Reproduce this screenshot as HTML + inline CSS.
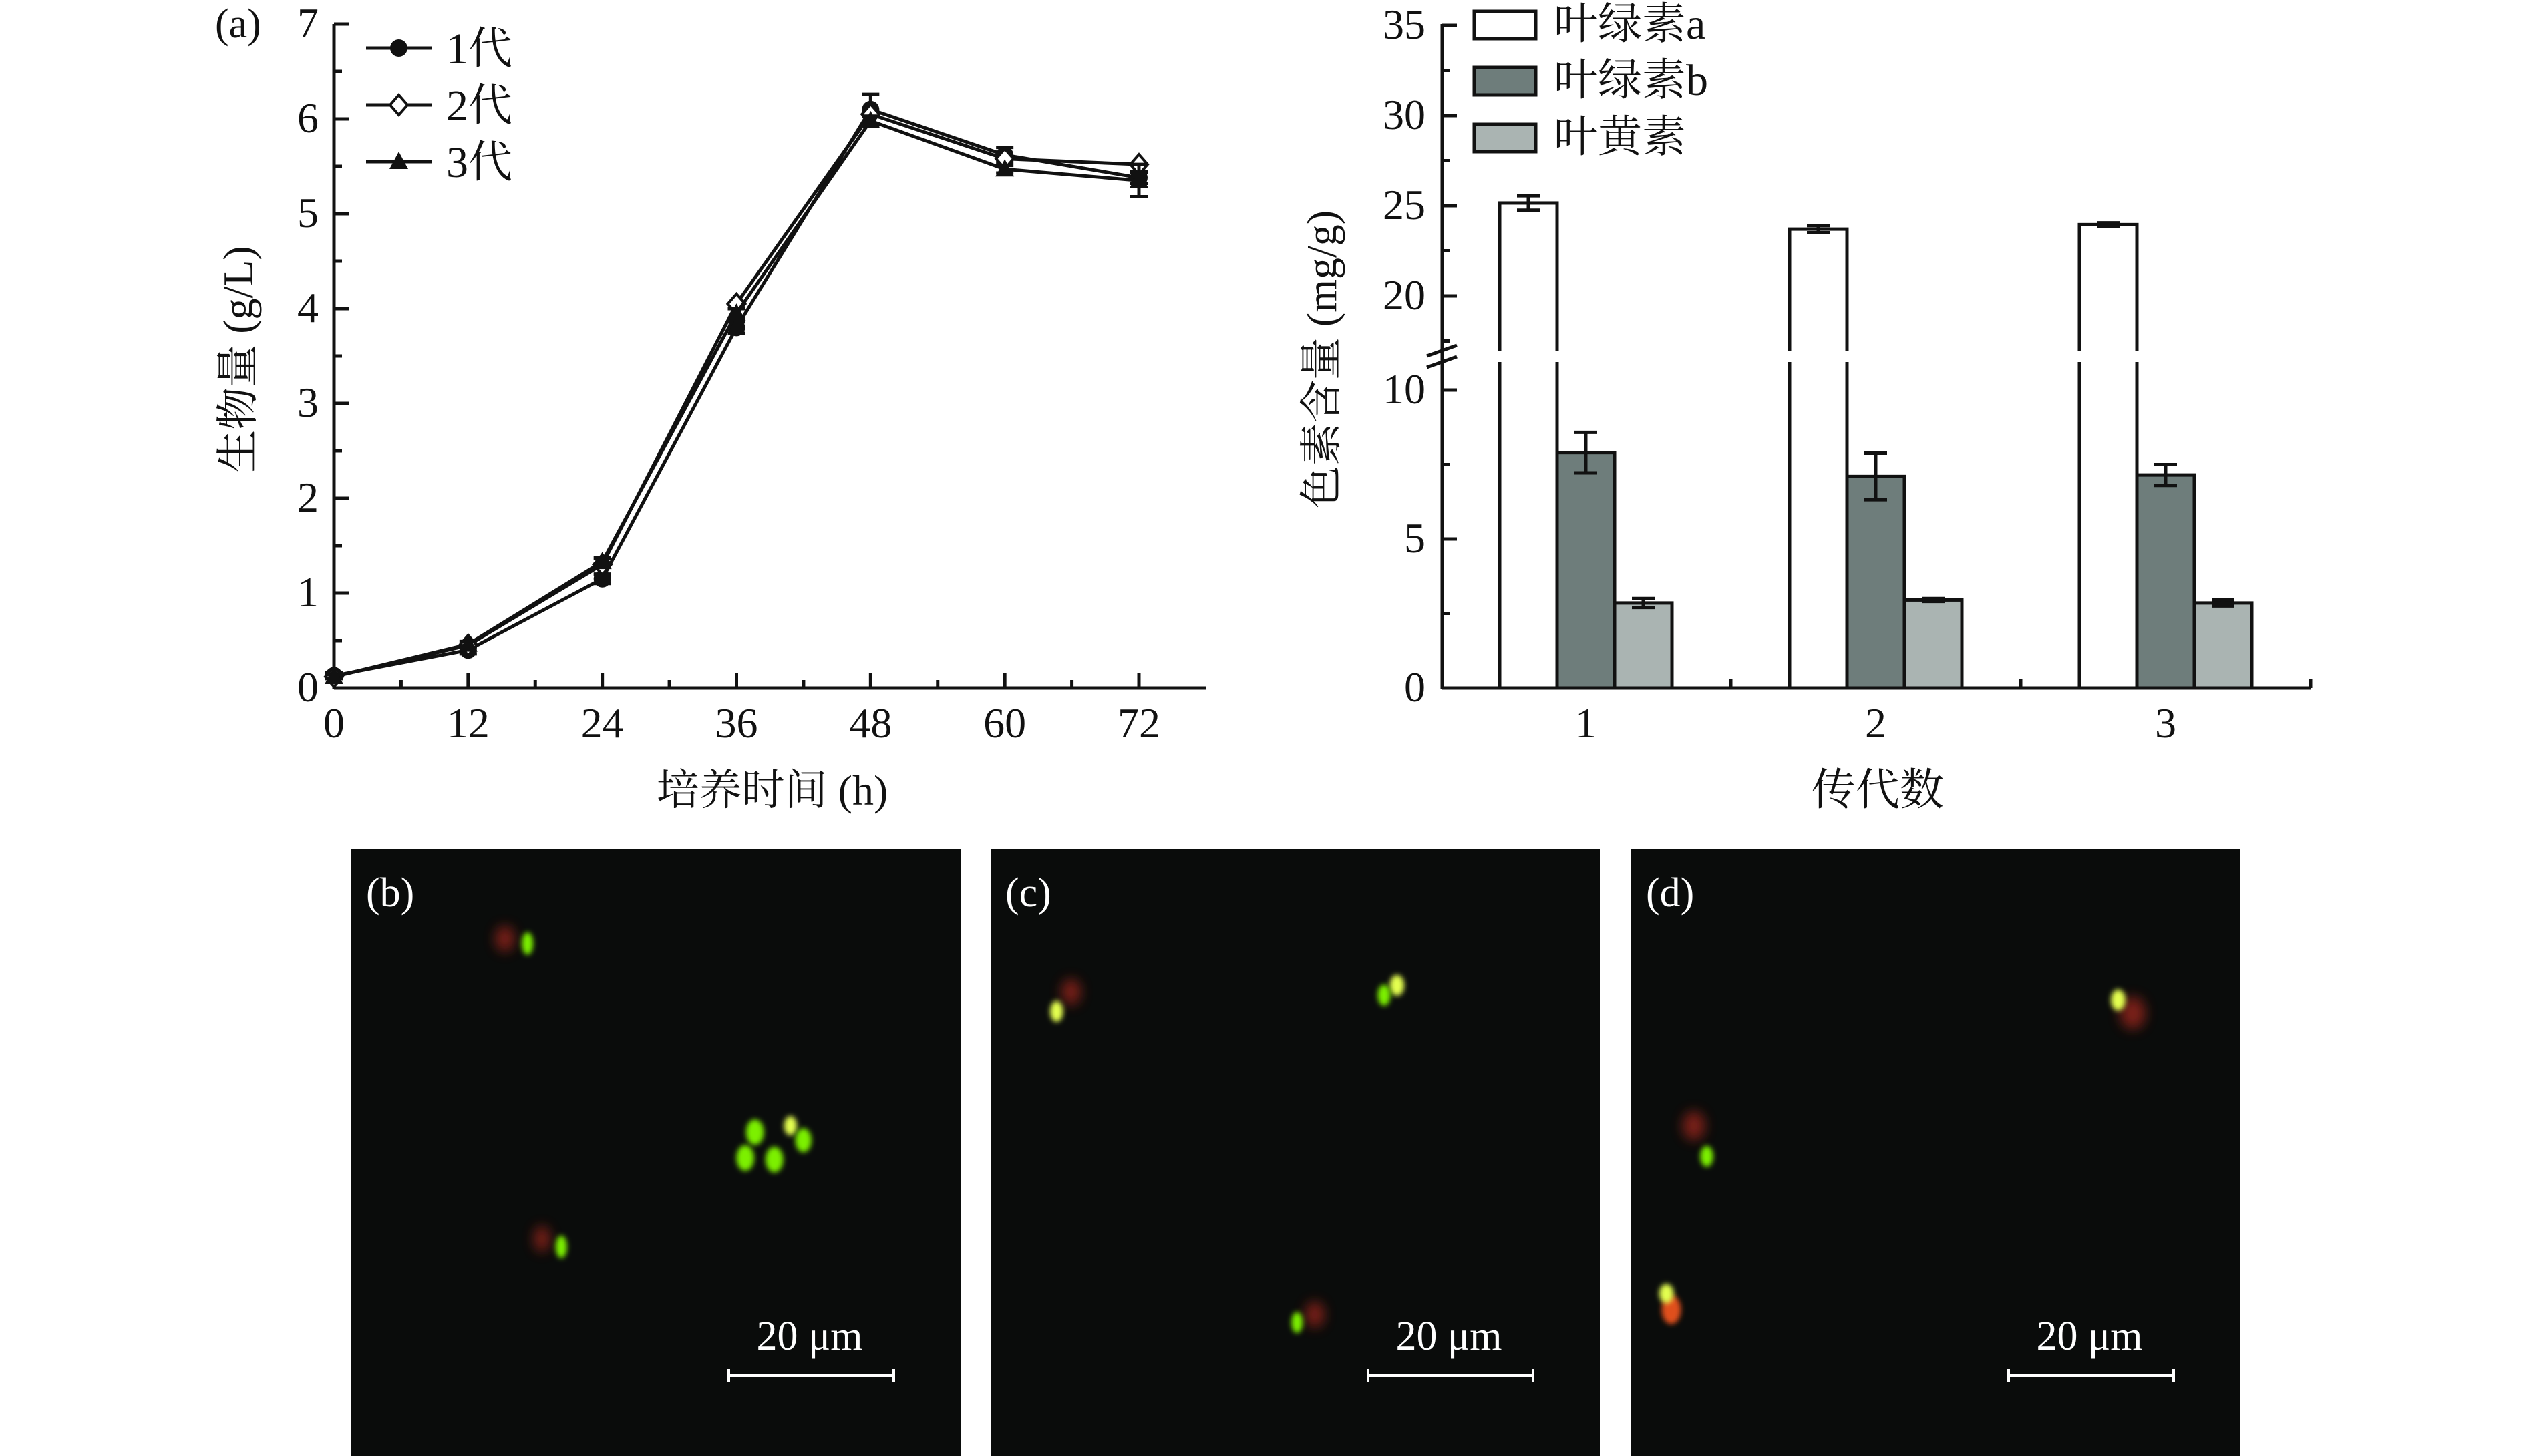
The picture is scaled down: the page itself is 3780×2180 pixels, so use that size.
<!DOCTYPE html>
<html><head><meta charset="utf-8">
<style>
html,body{margin:0;padding:0;background:#fff;}
svg{display:block;}
text{font-family:"Liberation Serif","Noto Serif CJK SC","Noto Sans CJK SC",serif;fill:#111;}
</style></head>
<body>
<svg id="fig" width="3780" height="2180" viewBox="0 0 3780 2180" xmlns="http://www.w3.org/2000/svg">
<defs>
<filter id="blur" x="-100%" y="-100%" width="300%" height="300%"><feGaussianBlur stdDeviation="4"/></filter>
<filter id="blur2" x="-100%" y="-100%" width="300%" height="300%"><feGaussianBlur stdDeviation="9"/></filter>
</defs>
<g id="chartA"></g>
<g id="chartB"></g>
<g id="photos"></g>
</svg>
<script>
// ---------- Chart A data ----------
const hours = [0, 12, 24, 36, 48, 60, 72];
const gen1 = [0.13, 0.40, 1.15, 3.80, 6.10, 5.62, 5.38];
const gen2 = [0.12, 0.45, 1.30, 4.05, 6.05, 5.58, 5.52];
const gen3 = [0.12, 0.46, 1.33, 3.95, 5.98, 5.47, 5.35];
const err1 = [0.03, 0.04, 0.05, 0.06, 0.16, 0.08, 0.06];
const err3 = [0.02, 0.03, 0.04, 0.05, 0.05, 0.04, 0.17];
const xTicksA = ["0", "12", "24", "36", "48", "60", "72"];
const yTicksA = ["0", "1", "2", "3", "4", "5", "6", "7"];
const seriesNamesA = ["1代", "2代", "3代"];

// ---------- Chart B data ----------
const generations = ["1", "2", "3"];
const chlA = [25.15, 23.70, 23.95];
const chlAErr = [0.40, 0.20, 0.10];
const chlB = [7.90, 7.10, 7.15];
const chlBErr = [0.68, 0.78, 0.35];
const lutein = [2.85, 2.95, 2.85];
const luteinErr = [0.15, 0.05, 0.10];
const seriesNamesB = ["叶绿素a", "叶绿素b", "叶黄素"];
const yTicksLow = ["0", "5", "10"];
const yTicksHigh = ["20", "25", "30", "35"];

const NS = "http://www.w3.org/2000/svg";
function mk(tag, attrs, parent, txt) {
  const e = document.createElementNS(NS, tag);
  for (const k in attrs) e.setAttribute(k, attrs[k]);
  if (txt !== undefined) e.textContent = txt;
  parent.appendChild(e);
  return e;
}

// ================= Chart A =================
(function () {
  const g = document.getElementById('chartA');
  const X0 = 500, X1 = 1705, Y0 = 1030, Y7 = 36;
  const xs = h => X0 + (h / 72) * (X1 - X0);
  const ys = v => Y0 - (v / 7) * (Y0 - Y7);
  const sw = 5;
  let e;
  e = mk('line', {x1: X0, y1: Y0, x2: 1806, y2: Y0, stroke: '#111', 'stroke-width': sw}, g);
   
  e = mk('line', {x1: X0, y1: Y0 + 2, x2: X0, y2: Y7, stroke: '#111', 'stroke-width': sw}, g);
   
  for (let v = 0; v <= 7; v += 0.5) {
    const major = Number.isInteger(v);
    mk('line', {x1: X0, y1: ys(v), x2: X0 + (major ? 22 : 12), y2: ys(v), stroke: '#111', 'stroke-width': sw}, g);
  }
  yTicksA.forEach((t, i) => {
    e = mk('text', {x: 477, y: ys(i) + 20, 'font-size': 64, 'text-anchor': 'end'}, g, t);
     
  });
  for (let h = 0; h <= 72; h += 6) {
    const major = h % 12 === 0;
    mk('line', {x1: xs(h), y1: Y0, x2: xs(h), y2: Y0 - (major ? 22 : 12), stroke: '#111', 'stroke-width': sw}, g);
  }
  xTicksA.forEach((t, i) => {
    e = mk('text', {x: xs(+t), y: 1104, 'font-size': 64, 'text-anchor': 'middle'}, g, t);
     
  });
  e = mk('text', {x: 1156, y: 1205, 'font-size': 64, 'text-anchor': 'middle'}, g, '培养时间 (h)');
   
  e = mk('text', {x: 0, y: 0, 'font-size': 64, 'text-anchor': 'middle', transform: 'translate(378,538) rotate(-90)'}, g, '生物量 (g/L)');
   
  e = mk('text', {x: 322, y: 56, 'font-size': 62}, g, '(a)');
   

  function marker(type, x, y, parent) {
    const r = 13;
    if (type === 0) return mk('circle', {cx: x, cy: y, r: r, fill: '#111'}, parent);
    if (type === 1) return mk('polygon', {points: `${x},${y - 15} ${x + 13},${y} ${x},${y + 15} ${x - 13},${y}`, fill: '#fff', stroke: '#111', 'stroke-width': 4}, parent);
    return mk('polygon', {points: `${x},${y - 15} ${x + 14},${y + 11} ${x - 14},${y + 11}`, fill: '#111'}, parent);
  }
  const allSeries = [gen1, gen2, gen3];
  const errs = [err1, null, err3];
  allSeries.forEach((s, si) => {
    const sg = mk('g', {}, g);
    
    
    const pts = s.map((v, i) => xs(hours[i]) + ',' + ys(v)).join(' ');
    mk('polyline', {points: pts, fill: 'none', stroke: '#111', 'stroke-width': 5}, sg);
    if (errs[si]) {
      s.forEach((v, i) => {
        const x = xs(hours[i]), d = errs[si][i];
        mk('path', {d: `M${x},${ys(v - d)}V${ys(v + d)}M${x - 13},${ys(v - d)}H${x + 13}M${x - 13},${ys(v + d)}H${x + 13}`, stroke: '#111', 'stroke-width': 5, fill: 'none'}, sg);
      });
    }
    s.forEach((v, i) => {
      const m = marker(si, xs(hours[i]), ys(v), sg);
      
      
    });
  });
  const legY = [72, 157, 242];
  seriesNamesA.forEach((n, i) => {
    const lg = mk('g', {}, g);
    
    
    mk('line', {x1: 548, y1: legY[i], x2: 647, y2: legY[i], stroke: '#111', 'stroke-width': 5}, lg);
    marker(i, 597, legY[i], lg);
    mk('text', {x: 668, y: legY[i] + 23, 'font-size': 66}, lg, n);
  });
})();

// ================= Chart B =================
(function () {
  const g = document.getElementById('chartB');
  const X0 = 2159, XE = 3459, Y0 = 1030;
  const yLow = v => Y0 - v * 44.6;
  const yHigh = v => 38 + (35 - v) * 27;
  const ys = v => v > 15 ? yHigh(v) : yLow(v);
  const gc = i => 2374 + i * 434;
  const bw = 86;
  const sw = 5;
  let e;
  e = mk('line', {x1: X0, y1: Y0, x2: XE, y2: Y0, stroke: '#111', 'stroke-width': sw}, g);
   
  e = mk('line', {x1: X0, y1: Y0 + 2, x2: X0, y2: 36, stroke: '#111', 'stroke-width': sw}, g);
   
  e = mk('path', {d: 'M2136,533L2181,517M2136,550L2181,534', stroke: '#111', 'stroke-width': 5, fill: 'none'}, g);
   
  for (let v = 0; v <= 10; v += 2.5) {
    const major = v % 5 === 0;
    mk('line', {x1: X0, y1: yLow(v), x2: X0 + (major ? 22 : 12), y2: yLow(v), stroke: '#111', 'stroke-width': sw}, g);
  }
  for (let v = 17.5; v <= 35; v += 2.5) {
    const major = v % 5 === 0;
    mk('line', {x1: X0, y1: yHigh(v), x2: X0 + (major ? 22 : 12), y2: yHigh(v), stroke: '#111', 'stroke-width': sw}, g);
  }
  yTicksLow.forEach(t => {
    e = mk('text', {x: 2134, y: yLow(+t) + 20, 'font-size': 64, 'text-anchor': 'end'}, g, t);
     
  });
  yTicksHigh.forEach(t => {
    e = mk('text', {x: 2134, y: yHigh(+t) + 20, 'font-size': 64, 'text-anchor': 'end'}, g, t);
     
  });
  for (let i = 0; i < generations.length; i++) {
    mk('line', {x1: gc(i), y1: Y0, x2: gc(i), y2: Y0 - 22, stroke: '#111', 'stroke-width': sw}, g);
    mk('line', {x1: gc(i) + 217, y1: Y0, x2: gc(i) + 217, y2: Y0 - 14, stroke: '#111', 'stroke-width': sw}, g);
    e = mk('text', {x: gc(i), y: 1104, 'font-size': 64, 'text-anchor': 'middle'}, g, generations[i]);
     
  }
  const sets = [[chlA, chlAErr, '#ffffff', -1], [chlB, chlBErr, '#6e7d7b', 0], [lutein, luteinErr, '#aab4b2', 1]];
  sets.forEach((s, si) => {
    s[0].forEach((v, i) => {
      const cx = gc(i) + s[3] * bw;
      const top = ys(v);
      const b = mk('rect', {x: cx - bw / 2, y: top, width: bw, height: Y0 - top, fill: s[2], stroke: '#111', 'stroke-width': sw}, g);
      
      
      if (v > 15) mk('rect', {x: cx - bw / 2 - 4, y: 525, width: bw + 8, height: 17, fill: '#fff'}, g);
      const d = s[1][i];
      mk('path', {d: `M${cx},${ys(v - d)}V${ys(v + d)}M${cx - 17},${ys(v - d)}H${cx + 17}M${cx - 17},${ys(v + d)}H${cx + 17}`, stroke: '#111', 'stroke-width': 5, fill: 'none'}, g);
    });
  });
  const legTop = [17, 101, 186];
  seriesNamesB.forEach((n, i) => {
    const lg = mk('g', {}, g);
    
    
    mk('rect', {x: 2207, y: legTop[i], width: 92, height: 41, fill: sets[i][2], stroke: '#111', 'stroke-width': 5}, lg);
    mk('text', {x: 2326, y: legTop[i] + 41, 'font-size': 66}, lg, n);
  });
  e = mk('text', {x: 2811, y: 1205, 'font-size': 66, 'text-anchor': 'middle'}, g, '传代数');
   
  e = mk('text', {x: 0, y: 0, 'font-size': 64, 'text-anchor': 'middle', transform: 'translate(2000,538) rotate(-90)'}, g, '色素含量 (mg/g)');
   
})();

// ================= Photos =================
(function () {
  const g = document.getElementById('photos');
  const S = 2.415;
  const panels = [
    {x: 526, label: '(b)', cells: [[313,582,'r',6,8],[327,585,'g',3.5,7],[468,702,'g',5.5,8],[490,698,'y',4,6],[498,707,'g',5,7.5],[462,718,'g',5.5,8],[480,719,'g',5.5,8],[336,768,'r',5,8],[348,773,'g',3.5,7]]},
    {x: 1483, label: '(c)', cells: [[664,615,'r',6,8],[655,627,'y',4,6.5],[866,611,'y',4.5,6.5],[858,617,'g',4,6.5],[815,815,'r',6,8],[804,820,'g',3.5,6.5]]},
    {x: 2442, label: '(d)', cells: [[1322,628,'r',8,10],[1313,620,'y',4.5,6.5],[1050,698,'r',7,9],[1058,717,'g',4,6.5],[1036,812,'o',6,9],[1033,802,'y',4.5,6]]}
  ];
  const col = {r: '#a0261a', g: '#7cf000', y: '#e4ff50', o: '#e0501a'};
  panels.forEach((p, pi) => {
    const pg = mk('g', {}, g);
    
    
    mk('rect', {x: p.x, y: 1271, width: 912, height: 909, fill: '#0a0c0b'}, pg);
    p.cells.forEach(c => {
      const isRed = c[2] === 'r';
      mk('ellipse', {cx: c[0] * S, cy: c[1] * S, rx: c[3] * S, ry: c[4] * S, fill: col[c[2]], opacity: isRed ? 0.75 : 1, filter: isRed ? 'url(#blur2)' : 'url(#blur)'}, pg);
    });
    let e = mk('text', {x: p.x + 22, y: 1357, 'font-size': 62, style: 'fill:#fff'}, pg, p.label);
     
    e = mk('text', {x: p.x + 686, y: 2021, 'font-size': 62, 'text-anchor': 'middle', style: 'fill:#fff'}, pg, '20 μm');
     
    e = mk('path', {d: `M${p.x + 565},2059H${p.x + 812}M${p.x + 565},2049V2069M${p.x + 812},2049V2069`, stroke: '#fff', 'stroke-width': 4, fill: 'none'}, pg);
     
  });
})();
</script>
</body></html>
